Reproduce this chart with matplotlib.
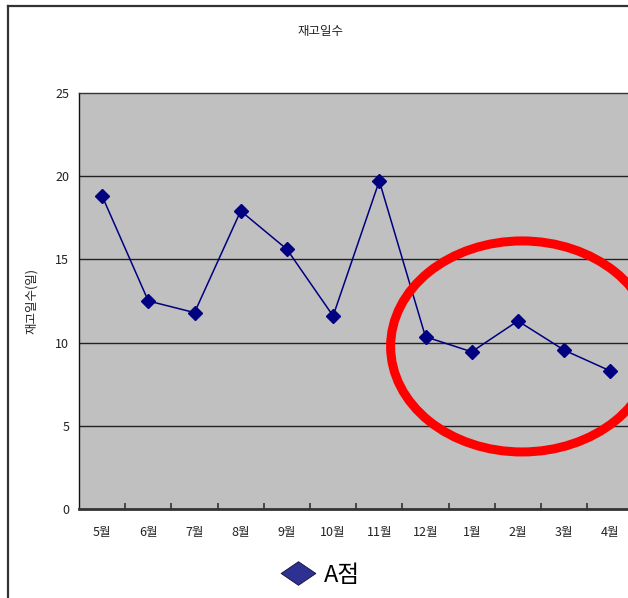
import matplotlib
matplotlib.use('Agg')
import matplotlib.pyplot as plt
from matplotlib.lines import Line2D
from matplotlib.patches import Ellipse
from matplotlib.path import Path

plt.rcParams['font.family'] = ['Noto Sans CJK KR', 'DejaVu Sans']

# data
months = ['5월', '6월', '7월', '8월', '9월', '10월', '11월', '12월', '1월', '2월', '3월', '4월']
stock_days = [18.8, 12.5, 11.8, 17.9, 15.6, 11.6, 19.7, 10.35, 9.45, 11.3, 9.55, 8.3]
y_ticks = [0, 5, 10, 15, 20, 25]
series_name = 'A점'

W, H = 628, 598
fig = plt.figure(figsize=(W / 100, H / 100), dpi=100)
fig.patch.set_facecolor('white')

# plot area (runs slightly past the right edge, like the cropped original)
ax = fig.add_axes([79 / W, (H - 509.3) / H, 554.4 / W, 416.7 / H])
ax.set_facecolor('#C0C0C0')

x = list(range(len(months)))
ax.plot(x, stock_days, color='#000080', linewidth=1.1,
        marker='D', markersize=7, markerfacecolor='#000080',
        markeredgecolor='#000080', zorder=3)

ax.set_xlim(-0.5, len(months) - 0.5)
ax.set_ylim(0, 25)
ax.set_yticks(y_ticks)
ax.set_yticklabels([str(v) for v in y_ticks], fontsize=9, color='#222222')
ax.tick_params(axis='y', length=0, pad=7)

ax.set_xticks(x)
ax.set_xticklabels(months, fontsize=9, color='#222222')
ax.tick_params(axis='x', which='major', length=0, pad=12)
ax.set_xticks([i + 0.5 for i in x[:-1]], minor=True)
ax.tick_params(axis='x', which='minor', direction='in', length=4,
               width=1.2, color='#333333')

for v in y_ticks[1:-1]:
    ax.axhline(v, color='#222222', linewidth=1.0, zorder=1)

ax.spines['right'].set_visible(False)
ax.spines['left'].set_color('#111111')
ax.spines['left'].set_linewidth(1.0)
ax.spines['top'].set_color('#333333')
ax.spines['top'].set_linewidth(1.0)
ax.spines['bottom'].set_color('#333333')
ax.spines['bottom'].set_linewidth(2.0)

# red highlight ring
ring = Ellipse((9.09, 9.77), width=5.69, height=12.66, fill=False,
               edgecolor='#FF0000', linewidth=6.5, clip_on=False, zorder=4)
ax.add_patch(ring)

# titles
fig.text(321 / W, 1 - 31 / H, '재고일수', ha='center', va='center',
         fontsize=9, color='#222222')
fig.text(32 / W, 1 - 301 / H, '재고일수(일)', ha='center', va='center',
         rotation=90, fontsize=9, color='#222222')

# outer chart frame (left and top edges visible)
fig.add_artist(Line2D([8 / W, 8 / W], [0, 1 - 6 / H], transform=fig.transFigure,
                      color='#333333', linewidth=1.6))
fig.add_artist(Line2D([8 / W, 1], [1 - 6 / H, 1 - 6 / H], transform=fig.transFigure,
                      color='#333333', linewidth=1.6))

# legend with a wide diamond
wide_diamond = Path([(-1, 0), (0, 0.68), (1, 0), (0, -0.68), (-1, 0)],
                    [Path.MOVETO, Path.LINETO, Path.LINETO, Path.LINETO, Path.CLOSEPOLY])
handle = Line2D([], [], linestyle='none', marker=wide_diamond, markersize=25,
                markerfacecolor='#2E3192', markeredgecolor='#111133',
                markeredgewidth=0.6)
fig.legend([handle], [series_name], loc='center',
           bbox_to_anchor=(320 / W, 1 - 575 / H), frameon=False,
           fontsize=17, handlelength=1.6, handletextpad=0.3,
           borderpad=0)

fig.savefig('out.png', dpi=100)
